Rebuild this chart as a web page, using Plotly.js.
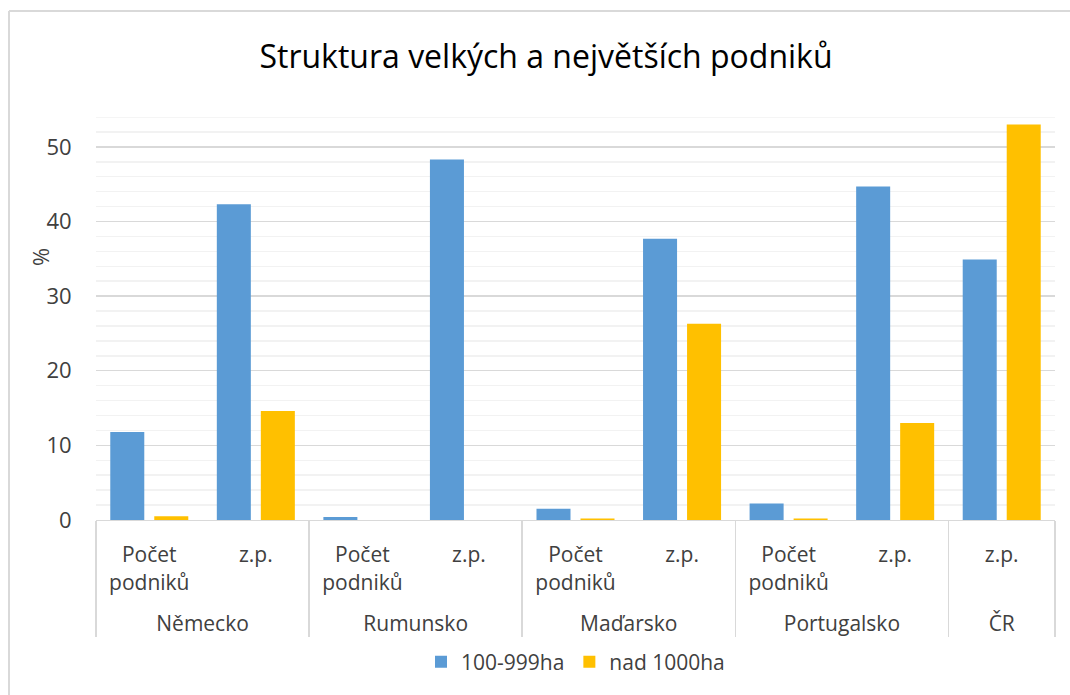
<!DOCTYPE html>
<html>
<head>
<meta charset="utf-8">
<script src="https://cdn.plot.ly/plotly-3.0.1.min.js"></script>
<style>
html,body{margin:0;padding:0;background:#fff;}
#chart{width:1070px;height:695px;}
</style>
</head>
<body>
<div id="chart"></div>
<script>
var countries = ["Německo","Německo","Rumunsko","Rumunsko","Maďarsko","Maďarsko","Portugalsko","Portugalsko","ČR"];
var measures = ["Počet<br>podniků","z.p.","Počet<br>podniků","z.p.","Počet<br>podniků","z.p.","Počet<br>podniků","z.p.","z.p."];
var series1Name = "100-999ha";
var series2Name = "nad 1000ha";
var series1 = [11.8, 42.3, 0.4, 48.3, 1.5, 37.7, 2.2, 44.7, 34.9];
var series2 = [0.5, 14.6, 0, 0, 0.2, 26.3, 0.2, 13.0, 53.0];
var yMax = 54;
var titleText = "Struktura velkých a největších podniků";
var yTitle = "%";

var FONT = "'Open Sans', 'Noto Sans', sans-serif";
var L = 96, R = 1055, T = 117, B = 520;
var pw = R - L, ph = B - T;
function px(x){ return (x - L) / pw; }
function py(y){ return (B - y) / ph; }

// pad each sub-category label with a blank line so the country row sits lower
var measureLabels = measures.map(function(m){ return m.indexOf("<br>") >= 0 ? m + "<br>\u00a0" : m + "<br>\u00a0<br>\u00a0"; });

var data = [
  {type:"bar", name:series1Name, x:[countries, measureLabels], y:series1, marker:{color:"#5B9BD5"}},
  {type:"bar", name:series2Name, x:[countries, measureLabels], y:series2, marker:{color:"#FFC000"}}
];

var layout = {
  width:1070, height:695,
  margin:{l:L, r:1070-R, t:T, b:695-B, pad:0},
  paper_bgcolor:"#fff", plot_bgcolor:"#fff",
  font:{family:FONT, color:"#404040"},
  title:{text:titleText, font:{family:FONT, size:32, color:"#000"}, x:546/1070, xanchor:"center", y:1-57/695, yanchor:"middle"},
  barmode:"group", bargap:0.174, bargroupgap:0.227,
  xaxis:{type:"multicategory", showline:true, linecolor:"#d9d9d9", linewidth:1,
         ticks:"", ticklabelstandoff:16,
         tickfont:{size:21, color:"#404040", family:FONT},
         showdividers:true, dividercolor:"#d9d9d9", dividerwidth:1.5},
  yaxis:{range:[0,yMax], tickmode:"linear", tick0:0, dtick:10, ticks:"outside", ticklen:19, tickcolor:"rgba(0,0,0,0)",
         showline:false, zeroline:false,
         gridcolor:"#d9d9d9", gridwidth:1.5,
         minor:{tickmode:"linear", tick0:0, dtick:2, showgrid:true, gridcolor:"#f2f2f2", gridwidth:1.5, ticks:""},
         tickfont:{size:22, color:"#404040", family:FONT}},
  annotations:[
    {text:yTitle, xref:"paper", yref:"paper", x:px(40), y:py(257), xanchor:"center", yanchor:"middle",
     textangle:-90, showarrow:false, font:{size:22, color:"#404040", family:FONT}}
  ],
  legend:{orientation:"h", x:0.5, xanchor:"center", y:py(662), yanchor:"middle", itemwidth:30,
          font:{size:21, color:"#404040", family:FONT}, traceorder:"normal"},
  showlegend:true,
  shapes:[
    {type:"line", xref:"paper", yref:"y", x0:0, x1:1, y0:yMax, y1:yMax, line:{color:"#f2f2f2", width:1.5}, layer:"below"},
    {type:"line", xref:"paper", yref:"paper", x0:px(9), x1:px(1075), y0:py(11), y1:py(11), line:{color:"#d9d9d9", width:2}},
    {type:"line", xref:"paper", yref:"paper", x0:px(9), x1:px(9), y0:py(11), y1:py(700), line:{color:"#d9d9d9", width:2}}
  ]
};

Plotly.newPlot("chart", data, layout, {displayModeBar:false, staticPlot:true});
</script>
</body>
</html>
